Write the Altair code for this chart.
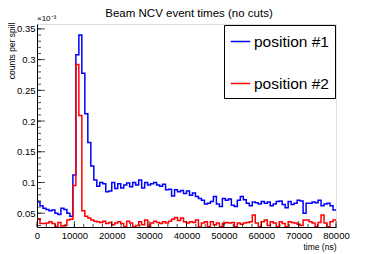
import altair as alt
import pandas as pd

# ---- data (values in units of 1e-3 counts per spill), 100 bins of 800 ns ----
series_names = ["position #1", "position #2"]
series_colors = ["#0000ff", "#ff0000"]
bin_width = 800
x_max = 80000
title_text = "Beam NCV event times (no cuts)"

blue_vals = [
    0.068, 0.062, 0.058, 0.056, 0.054, 0.055, 0.050, 0.048, 0.058, 0.056, 0.050, 0.045,
    0.112, 0.308, 0.340, 0.278, 0.212, 0.165, 0.127,
    0.104, 0.094, 0.100, 0.098, 0.085, 0.086, 0.100, 0.090, 0.098, 0.091, 0.096, 0.099, 0.093, 0.100, 0.096,
    0.104, 0.091, 0.100, 0.096, 0.098, 0.100, 0.096, 0.094, 0.097, 0.088, 0.089, 0.078, 0.088, 0.085, 0.087,
    0.082, 0.086, 0.079, 0.083, 0.077, 0.074, 0.071, 0.065, 0.066, 0.069, 0.077, 0.065, 0.061, 0.074, 0.071,
    0.073, 0.063, 0.061, 0.071, 0.077, 0.072, 0.066, 0.062, 0.068, 0.067, 0.065, 0.069, 0.066, 0.068, 0.062,
    0.065, 0.069, 0.070, 0.064, 0.059, 0.069, 0.064, 0.066, 0.071, 0.070, 0.050, 0.066, 0.066, 0.068, 0.067,
    0.071, 0.062, 0.065, 0.066, 0.062, 0.055,
]
red_vals = [
    0.041, 0.033, 0.033, 0.034, 0.036, 0.033, 0.028, 0.035, 0.029, 0.030, 0.039, 0.040,
    0.095, 0.292, 0.209, 0.054, 0.045, 0.042, 0.039, 0.037,
    0.036, 0.035, 0.037, 0.033, 0.035, 0.031, 0.034, 0.036, 0.033, 0.028, 0.037, 0.034, 0.028, 0.030, 0.036,
    0.031, 0.039, 0.028, 0.034, 0.037, 0.035, 0.033, 0.036, 0.034, 0.037, 0.040, 0.043, 0.038, 0.042, 0.036,
    0.034, 0.036, 0.035, 0.039, 0.028, 0.034, 0.036, 0.028, 0.036, 0.031, 0.034, 0.028, 0.033, 0.035, 0.034,
    0.035, 0.028, 0.034, 0.032, 0.034, 0.035, 0.036, 0.047, 0.034, 0.028, 0.036, 0.039, 0.030, 0.036, 0.034,
    0.028, 0.036, 0.033, 0.028, 0.036, 0.035, 0.034, 0.032, 0.030, 0.039, 0.039, 0.036, 0.034, 0.028, 0.035,
    0.047, 0.034, 0.028, 0.036, 0.039,
]

y_min, y_max = 0.0275, 0.358
x_major = [0, 10000, 20000, 30000, 40000, 50000, 60000, 70000, 80000]
x_minor = list(range(0, 80001, 2500))
y_major = [0.05, 0.10, 0.15, 0.20, 0.25, 0.30, 0.35]
y_minor = [round(0.03 + 0.01 * i, 2) for i in range(33)]

rows = []
for name, vals in zip(series_names, [blue_vals, red_vals]):
    for i, v in enumerate(vals):
        rows.append({"t": i * bin_width, "v": v, "series": name})
    rows.append({"t": len(vals) * bin_width, "v": vals[-1], "series": name})
df = pd.DataFrame(rows)

FONT = "Liberation Sans"

xscale = alt.Scale(domain=[0, x_max], nice=False, zero=False)
yscale = alt.Scale(domain=[y_min, y_max], nice=False, zero=False)
cscale = alt.Scale(domain=series_names, range=series_colors)

xaxis = alt.Axis(values=x_major, format="d", ticks=False, grid=False, domainColor="#000",
                 labelFontSize=9.5, labelFont=FONT, labelColor="#000", labelPadding=3,
                 labelOverlap=False, labelFlush=False, labelSeparation=0,
                 title="time (ns)", titleFont=FONT, titleFontSize=8.5, titleFontWeight="normal",
                 titleAnchor="end", titleColor="#000", titlePadding=3)
yaxis = alt.Axis(values=y_major, format="~g", ticks=False, grid=False, domainColor="#000",
                 labelFontSize=9.5, labelFont=FONT, labelColor="#000", labelPadding=2,
                 labelOverlap=False, labelSeparation=0,
                 title="counts per spill", titleFont=FONT, titleFontSize=8.5, titleFontWeight="normal",
                 titleAnchor="end", titleAngle=270, titleAlign="right", titleBaseline="top",
                 titleX=-30, titleY=-2, titleColor="#000")

legend = alt.Legend(title=None, orient="none", legendX=187, legendY=1,
                    fillColor="#fff", strokeColor="#000", padding=6,
                    labelFont=FONT, labelFontSize=15.5, labelColor="#000",
                    labelOffset=3, symbolType="stroke", symbolSize=380,
                    symbolStrokeWidth=1.5, rowPadding=23, labelLimit=200)

X = lambda f: alt.X(f, scale=xscale, axis=xaxis)
Y = lambda f: alt.Y(f, scale=yscale, axis=yaxis)

base = alt.Chart(df)

def series_line(name):
    return base.transform_filter(alt.datum.series == name).mark_line(
        interpolate="step-after", strokeWidth=1.5, clip=True).encode(
        x=X("t:Q"), y=Y("v:Q"),
        color=alt.Color("series:N", scale=cscale, legend=legend),
    )

lines = [series_line(n) for n in series_names]

xmaj_df = pd.DataFrame({"t": x_major, "y0": y_min})
xmin_df = pd.DataFrame({"t": x_minor, "y0": y_min})
ymaj_df = pd.DataFrame({"v": y_major, "x0": 0})
ymin_df = pd.DataFrame({"v": y_minor, "x0": 0})

xt_major = alt.Chart(xmaj_df).mark_tick(
    orient="vertical", size=6, thickness=1, color="#000", yOffset=-3).encode(
    x=X("t:Q"), y=Y("y0:Q"))
xt_minor = alt.Chart(xmin_df).mark_tick(
    orient="vertical", size=3, thickness=1, color="#000", yOffset=-1.5).encode(
    x=X("t:Q"), y=Y("y0:Q"))
yt_major = alt.Chart(ymaj_df).mark_tick(
    orient="horizontal", size=8, thickness=1, color="#000", xOffset=4).encode(
    y=Y("v:Q"), x=X("x0:Q"))
yt_minor = alt.Chart(ymin_df).mark_tick(
    orient="horizontal", size=4, thickness=1, color="#000", xOffset=2).encode(
    y=Y("v:Q"), x=X("x0:Q"))

exp_label = alt.Chart(pd.DataFrame({"txt": ["×10⁻³"]})).mark_text(
    align="left", baseline="bottom", font=FONT, fontSize=8, color="#000", dy=-1).encode(
    text="txt:N", x=alt.value(0), y=alt.value(0))

title_mark = alt.Chart(pd.DataFrame({"txt": [title_text]})).mark_text(
    align="center", baseline="alphabetic", font=FONT, fontSize=11.5, color="#000").encode(
    text="txt:N", x=alt.value(152), y=alt.value(-7))

chart = alt.layer(*lines, xt_major, xt_minor, yt_major, yt_minor, exp_label, title_mark).properties(
    width=299, height=203,
    autosize=alt.AutoSizeParams(type="none"),
    padding={"left": 29, "top": 16, "right": 22, "bottom": 26},
).configure_view(stroke="#000", strokeWidth=1).configure_axis(
    labelOverlap=False, labelSeparation=0
).configure(background="#fff")

chart.save("out.html", embed_options={"renderer": "svg", "actions": False})
